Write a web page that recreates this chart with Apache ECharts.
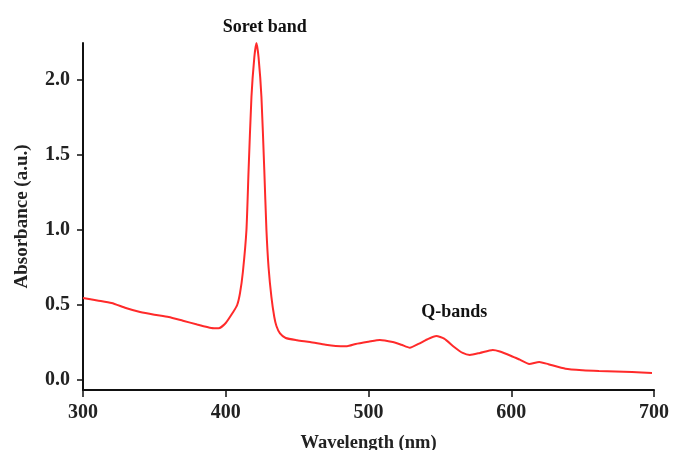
<!DOCTYPE html>
<html>
<head>
<meta charset="utf-8">
<script src="https://cdn.jsdelivr.net/npm/echarts@6/dist/echarts.min.js"></script>
<style>
html,body{margin:0;padding:0;background:#fff;}
#chart{width:673px;height:450px;}
</style>
</head>
<body>
<div id="chart"></div>
<script>
const wavelength = [300,310,320,330,340,350,360,370,380,390,395,400,405,408,410,412,414.5,416,418,420,421.5,423,425,427,428.5,430,432,434,435.5,438,442,450,459,470,477,485,491,500,508,517,523,529,535,541,547.5,553,560,566,571,578,587,592,600,606,612.6,619.6,626,638,650,661.5,673,684.6,698.6];
const absorbance = [0.547,0.53,0.513,0.48,0.453,0.435,0.42,0.395,0.37,0.347,0.345,0.38,0.45,0.5,0.58,0.72,1.0,1.4,1.887,2.15,2.247,2.15,1.887,1.4,1.0,0.75,0.553,0.42,0.36,0.31,0.28,0.265,0.253,0.235,0.227,0.225,0.24,0.255,0.267,0.253,0.235,0.215,0.24,0.27,0.293,0.275,0.22,0.18,0.167,0.18,0.2,0.19,0.16,0.135,0.107,0.12,0.105,0.075,0.065,0.06,0.057,0.053,0.047];
const xTicks = [300,400,500,600,700];
const yTicks = [0,0.5,1,1.5,2];
const annotations = [
  {text:'Soret band', x:427.3, y:2.35},
  {text:'Q-bands', x:560, y:0.45}
];

const font = 'Liberation Serif';
const chart = echarts.init(document.getElementById('chart'));
const option = {
  animation:false,
  backgroundColor:'#fff',
  grid:{left:83,right:19,top:43,bottom:60,containLabel:false,outerBoundsMode:'none'},
  xAxis:{
    type:'value', min:300, max:700,
    name:'Wavelength (nm)', nameLocation:'middle', nameGap:44,
    nameTextStyle:{fontFamily:font,fontWeight:'bold',fontSize:18.5,color:'#222'},
    axisLine:{show:true,onZero:false,lineStyle:{color:'#111',width:2}},
    axisTick:{show:true,inside:false,length:7,customValues:xTicks,lineStyle:{color:'#111',width:1.5}},
    axisLabel:{customValues:xTicks,margin:13,fontFamily:font,fontWeight:'bold',fontSize:20,color:'#222',formatter:v=>String(v)},
    splitLine:{show:false}
  },
  yAxis:{
    type:'value', min:-0.067, max:2.247,
    name:'Absorbance (a.u.)', nameLocation:'middle', nameGap:51, nameRotate:90,
    nameTextStyle:{fontFamily:font,fontWeight:'bold',fontSize:19,color:'#222'},
    axisLine:{show:true,onZero:false,lineStyle:{color:'#111',width:2}},
    axisTick:{show:true,inside:false,length:6,customValues:yTicks,lineStyle:{color:'#111',width:1.5}},
    axisLabel:{customValues:yTicks,margin:13,fontFamily:font,fontWeight:'bold',fontSize:20,color:'#222',formatter:v=>v.toFixed(1)},
    splitLine:{show:false}
  },
  series:[{
    type:'line',
    data:wavelength.map((w,i)=>[w,absorbance[i]]),
    showSymbol:false, smooth:0.2, clip:false,
    lineStyle:{color:'#ff2a2a',width:2}
  }]
};
chart.setOption(option);
const graphics = annotations.map(a=>{
  const p = chart.convertToPixel({gridIndex:0},[a.x,a.y]);
  return {type:'text',x:p[0],y:p[1],style:{text:a.text,fontFamily:font,fontWeight:'bold',fontSize:18,fill:'#111',align:'center',verticalAlign:'middle'}};
});
chart.setOption({graphic:graphics});
</script>
</body>
</html>
